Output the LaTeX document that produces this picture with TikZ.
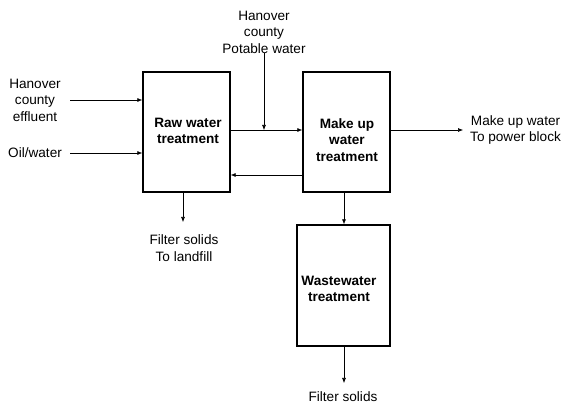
\documentclass[tikz,border=0pt]{standalone}
\usepackage{fontspec}
\setmainfont{Liberation Sans}
\usetikzlibrary{arrows.meta}
\begin{document}
\begin{tikzpicture}[x=1pt,y=-1pt,
  boxx/.style={draw,line width=1.4pt,inner sep=0pt},
  lbl/.style={font=\fontsize{13.6}{16.5}\selectfont,align=center,inner sep=0pt},
  blbl/.style={font=\bfseries\fontsize{13.6}{16.5}\selectfont,align=center,inner sep=0pt},
  flow/.style={line width=0.6pt,-{Latex[length=5pt,width=4pt]}}]
\useasboundingbox (0,0) rectangle (566,406);
\node[boxx,minimum width=87pt,minimum height=120pt] (rawb) at (186.5,132) {};
\node[boxx,minimum width=87pt,minimum height=120pt] (mkb) at (346.5,132) {};
\node[boxx,minimum width=93pt,minimum height=121pt] (wwb) at (343.5,285.5) {};
\node[blbl] (rawt) at (188,131) {Raw water\\treatment};
\node[blbl] (mkt) at (347,140) {Make up\\water\\treatment};
\node[blbl] (wwt) at (339,289) {Wastewater\\treatment};
\node[lbl] (eff) at (35,100) {Hanover\\county\\effluent};
\node[lbl,anchor=west] (oil) at (8,153) {Oil/water};
\node[lbl] (pot) at (264,32) {Hanover\\county\\Potable water};
\node[lbl,anchor=west] (pb) at (470,130) {Make up water\\To power block};
\node[lbl] (fs1) at (184,248) {Filter solids\\To landfill};
\node[lbl] (fs2) at (343,397) {Filter solids};
\coordinate (e0) at (70,100);
\coordinate (o0) at (70,153);
\coordinate (j) at (264,130);
\coordinate (pend) at (463,130);
\draw[flow] (e0) -- (rawb.west |- e0);
\draw[flow] (o0) -- (rawb.west |- o0);
\draw[flow] (rawb.east |- j) -- (mkb.west |- j);
\draw[flow] (pot.south -| j) -- (j);
\draw[flow] (mkb.west |- 0,175) -- (rawb.east |- 0,175);
\draw[flow] (mkb.east |- j) -- (pend);
\draw[flow] (rawb.south -| 183,0) -- (183,222);
\draw[flow] (mkb.south -| 344,0) -- (wwb.north -| 344,0);
\draw[flow] (wwb.south -| 344,0) -- (344,383);
\end{tikzpicture}
\end{document}
